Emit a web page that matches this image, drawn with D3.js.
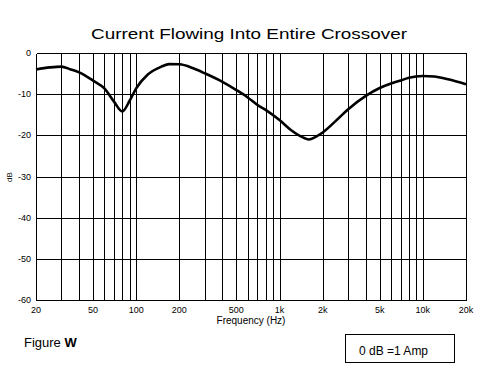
<!DOCTYPE html>
<html>
<head>
<meta charset="utf-8">
<script src="https://cdn.jsdelivr.net/npm/d3@7"></script>
<style>
  body { margin: 0; background: #fff; }
  text { font-family: "Liberation Sans", "DejaVu Sans", sans-serif; fill: #000; }
</style>
</head>
<body>
<div id="chart"></div>
<script>
// frequency response
var freqs = [20, 25, 30, 35, 40, 50, 60, 70, 80, 90, 100, 120, 150, 170, 200, 250, 300, 400, 500, 600,
             700, 800, 1000, 1200, 1500, 1600, 1800, 2000, 2500, 3000, 4000, 5000, 6000, 7000, 8000,
             10000, 12000, 15000, 20000];
var dbVals = [-4.0, -3.5, -3.3, -4.0, -4.7, -6.7, -8.6, -11.8, -14.2, -11.6, -8.6, -5.3, -3.3, -2.7, -2.75, -3.7, -4.9, -7.0, -9.0, -10.8,
              -12.6, -13.8, -16.3, -18.7, -20.7, -21.0, -20.3, -19.3, -16.3, -13.7, -10.4, -8.5, -7.4, -6.7, -6.0,
              -5.6, -5.7, -6.4, -7.6];

var gridFreqs = [20, 30, 40, 50, 60, 70, 80, 90, 100, 200, 300, 400, 500, 600, 700, 800, 900, 1000,
                 2000, 3000, 4000, 5000, 6000, 7000, 8000, 9000, 10000, 20000];
var tickFreqs = [20, 50, 100, 200, 500, 1000, 2000, 5000, 10000, 20000];
var tickNames = ["20", "50", "100", "200", "500", "1k", "2k", "5k", "10k", "20k"];
var dbTicks = [0, -10, -20, -30, -40, -50, -60];

var W = 483, H = 371;
var plotL = 36, plotR = 466, plotT = 53, plotB = 300;

var svg = d3.select("#chart").append("svg")
    .attr("width", W)
    .attr("height", H);

var x = d3.scaleLog().domain([20, 20000]).range([plotL, plotR]);
var y = d3.scaleLinear().domain([-60, 0]).range([plotB, plotT]);

var grid = svg.append("g")
    .attr("stroke", "#000")
    .attr("stroke-width", 1)
    .attr("shape-rendering", "crispEdges");

grid.selectAll("line.v")
    .data(gridFreqs)
    .enter().append("line")
    .attr("class", "v")
    .attr("x1", function(d) { return Math.round(x(d)) + 0.5; })
    .attr("x2", function(d) { return Math.round(x(d)) + 0.5; })
    .attr("y1", plotT + 0.5)
    .attr("y2", plotB + 0.5);

grid.selectAll("line.h")
    .data(dbTicks)
    .enter().append("line")
    .attr("class", "h")
    .attr("x1", plotL + 0.5)
    .attr("x2", plotR + 0.5)
    .attr("y1", function(d) { return Math.round(y(d)) + 0.5; })
    .attr("y2", function(d) { return Math.round(y(d)) + 0.5; });

// y labels
svg.selectAll("text.ylab")
    .data(dbTicks)
    .enter().append("text")
    .attr("class", "ylab")
    .attr("x", 31)
    .attr("y", function(d) { return y(d) + 3; })
    .attr("text-anchor", "end")
    .attr("font-size", 9)
    .text(function(d) { return d; });

// x labels
svg.selectAll("text.xlab")
    .data(tickFreqs)
    .enter().append("text")
    .attr("class", "xlab")
    .attr("x", function(d) { return x(d); })
    .attr("y", 313)
    .attr("text-anchor", "middle")
    .attr("font-size", 9)
    .text(function(d, i) { return tickNames[i]; });

svg.append("text")
    .attr("x", 251)
    .attr("y", 324)
    .attr("text-anchor", "middle")
    .attr("font-size", 10)
    .text("Frequency (Hz)");

svg.append("text")
    .attr("transform", "translate(12,177) rotate(-90)")
    .attr("text-anchor", "middle")
    .attr("font-size", 8)
    .text("dB");

svg.append("text")
    .attr("x", 91)
    .attr("y", 39)
    .attr("font-size", 14)
    .attr("textLength", 316)
    .attr("lengthAdjust", "spacingAndGlyphs")
    .text("Current Flowing Into Entire Crossover");

// the curve
var line = d3.line()
    .x(function(d, i) { return x(freqs[i]); })
    .y(function(d) { return y(d); })
    .curve(d3.curveMonotoneX);

svg.append("path")
    .datum(dbVals)
    .attr("d", line)
    .attr("fill", "none")
    .attr("stroke", "#000")
    .attr("stroke-width", 2.6)
    .attr("stroke-linejoin", "round");

// footer
var fig = svg.append("text")
    .attr("x", 24)
    .attr("y", 347)
    .attr("font-size", 13);
fig.append("tspan").text("Figure ");
fig.append("tspan").attr("font-weight", "bold").text("W");

svg.append("rect")
    .attr("x", 345.5)
    .attr("y", 334.5)
    .attr("width", 109)
    .attr("height", 28)
    .attr("fill", "none")
    .attr("stroke", "#000")
    .attr("stroke-width", 1)
    .attr("shape-rendering", "crispEdges");

svg.append("text")
    .attr("x", 359)
    .attr("y", 355)
    .attr("font-size", 12)
    .text("0 dB =1 Amp");
</script>
</body>
</html>
